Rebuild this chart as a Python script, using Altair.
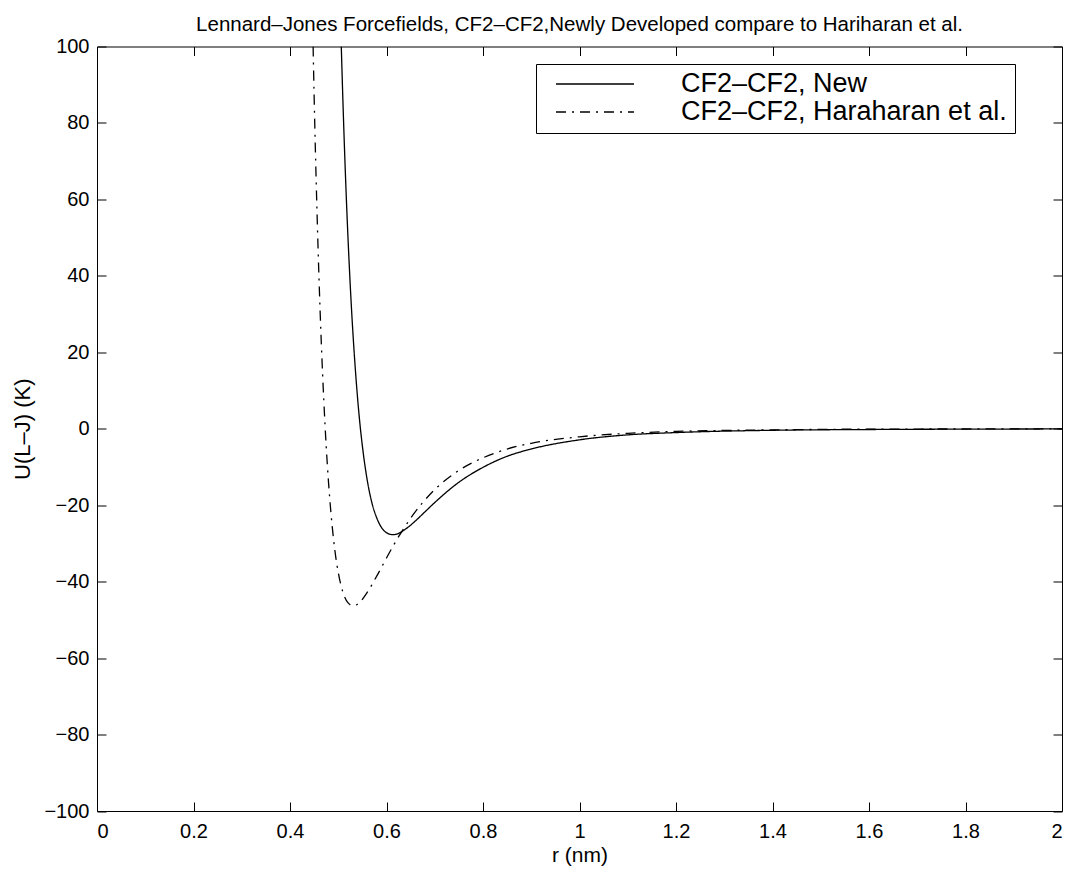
import altair as alt
import pandas as pd

# ---- data ----
r_new = [0.5063, 0.510, 0.515, 0.520, 0.525, 0.530, 0.535, 0.540, 0.545,
         0.550, 0.560, 0.570, 0.580, 0.590, 0.600, 0.613, 0.620, 0.640, 0.660,
         0.680, 0.700, 0.750, 0.800, 0.850, 0.900, 1.000, 1.100, 1.200, 1.400,
         1.600, 1.800, 2.000]
u_new = [100.0, 84.4, 66.1, 50.5, 37.2, 25.9, 16.3, 8.1, 1.2,
         -4.5, -13.4, -19.5, -23.4, -25.9, -27.2, -27.7, -27.6, -26.2, -24.1,
         -21.7, -19.3, -14.0, -10.1, -7.2, -5.3, -2.9, -1.6, -1.0, -0.4,
         -0.2, -0.1, -0.05]

r_har = [0.4479, 0.450, 0.455, 0.460, 0.465, 0.470, 0.475, 0.480, 0.485,
         0.490, 0.495, 0.500, 0.510, 0.520, 0.531, 0.540, 0.560, 0.580, 0.600,
         0.620, 0.650, 0.700, 0.750, 0.800, 0.850, 0.900, 1.000, 1.100, 1.200,
         1.400, 1.600, 1.800, 2.000]
u_har = [100.0, 87.1, 61.3, 39.8, 22.1, 7.5, -4.5, -14.3, -22.2,
         -28.6, -33.7, -37.6, -42.9, -45.5, -46.3, -45.9, -42.8, -38.5, -33.8,
         -29.3, -23.4, -15.9, -10.9, -7.6, -5.3, -3.8, -2.1, -1.2, -0.7,
         -0.3, -0.1, -0.06, -0.03]

series_names = ["CF2\u2013CF2, New", "CF2\u2013CF2, Haraharan et al."]
title_text = "Lennard\u2013Jones Forcefields, CF2\u2013CF2,Newly Developed compare to Hariharan et al."
x_title = "r (nm)"
y_title = "U(L\u2013J) (K)"
x_ticks = [0, 0.2, 0.4, 0.6, 0.8, 1, 1.2, 1.4, 1.6, 1.8, 2]
y_ticks = [-100, -80, -60, -40, -20, 0, 20, 40, 60, 80, 100]

df = pd.concat([
    pd.DataFrame({"r": r_new, "U": u_new, "series": series_names[0]}),
    pd.DataFrame({"r": r_har, "U": u_har, "series": series_names[1]}),
], ignore_index=True)

FONT = "Liberation Sans"
TICK = 9

x_scale = alt.Scale(domain=[0, 2], nice=False, zero=False)
y_scale = alt.Scale(domain=[-100, 100], nice=False, zero=False)

common_axis = dict(domain=False, grid=False, tickSize=TICK, offset=-TICK,
                   tickColor="black", tickWidth=1, labelColor="black",
                   labelFont=FONT, labelFontSize=20, titleFont=FONT,
                   titleFontWeight="normal", titleColor="black")

lines = alt.Chart(df).mark_line(clip=True, color="black", strokeWidth=1.3,
                                interpolate="monotone").encode(
    x=alt.X("r:Q", scale=x_scale,
            axis=alt.Axis(orient="bottom", values=x_ticks, format="~g",
                          labelPadding=10, title=x_title, titlePadding=3,
                          titleFontSize=21, **common_axis)),
    y=alt.Y("U:Q", scale=y_scale,
            axis=alt.Axis(orient="left", values=y_ticks, format="d",
                          labelPadding=8, title=y_title, titlePadding=9,
                          titleFontSize=22, **common_axis)),
    strokeDash=alt.StrokeDash(
        "series:N",
        scale=alt.Scale(domain=series_names, range=[[1, 0], [10, 6, 2, 6]]),
        legend=alt.Legend(title=None, orient="none", legendX=439, legendY=17.5,
                          symbolType="stroke", symbolSize=6084, symbolOffset=11,
                          symbolStrokeWidth=1.3, symbolStrokeColor="black",
                          clipHeight=24, labelFont=FONT, labelFontSize=27,
                          labelColor="black", labelOffset=46, labelLimit=0,
                          padding=8, rowPadding=1, strokeColor="black",
                          fillColor="white"),
    ),
)

frame = alt.Chart(df).mark_line(clip=True, opacity=0).encode(
    x=alt.X("r:Q", scale=x_scale,
            axis=alt.Axis(orient="top", values=x_ticks, labels=False, title=None,
                          **common_axis)),
    y=alt.Y("U:Q", scale=y_scale,
            axis=alt.Axis(orient="right", values=y_ticks, labels=False, title=None,
                          **common_axis)),
    detail="series:N",
)

chart = alt.layer(lines, frame).resolve_axis(
    x="independent", y="independent"
).properties(
    width=965,
    height=764.5,
    autosize=alt.AutoSizeParams(type="none"),
    padding={"left": 89, "top": 38.5, "right": 10, "bottom": 58},
    title=alt.Title(title_text, font=FONT, fontSize=20.5, fontWeight="normal",
                    color="black", anchor="middle", baseline="bottom",
                    offset=5, dy=24),
    background="white",
).configure_view(stroke="black", strokeWidth=1)

chart.save("out.html", embed_options={"renderer": "svg", "actions": False})
